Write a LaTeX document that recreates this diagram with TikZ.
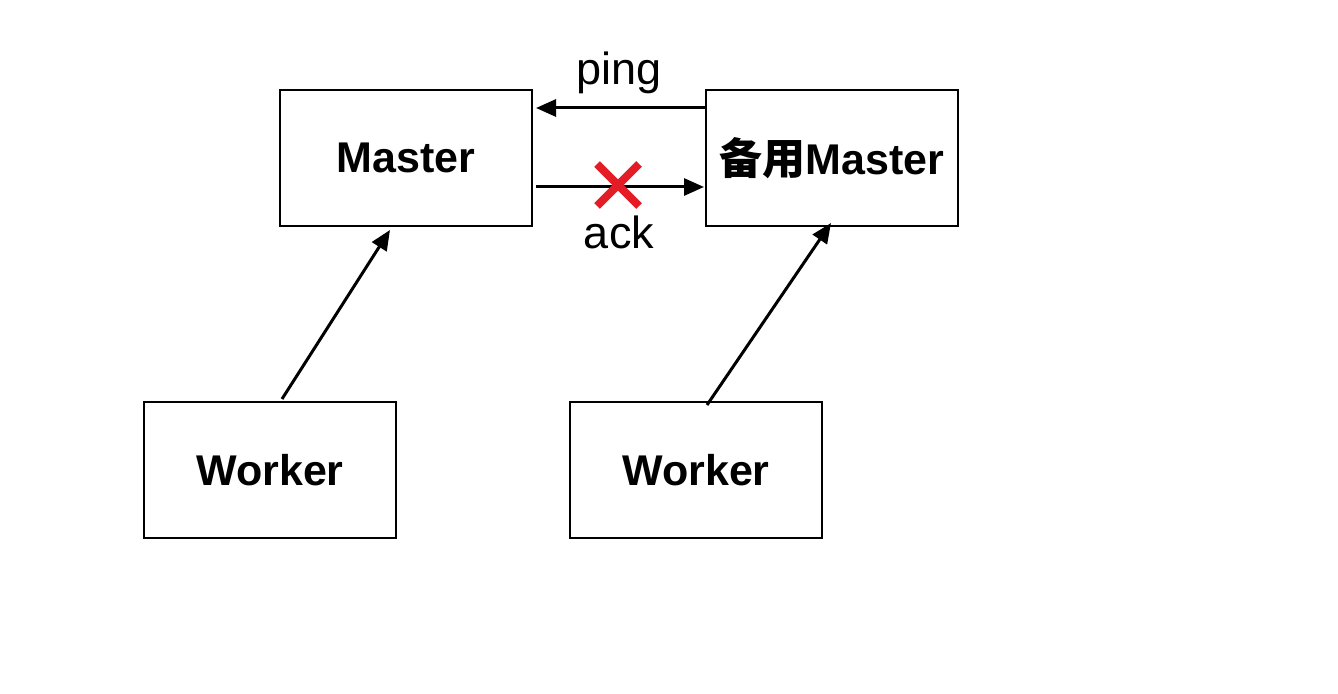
\documentclass[tikz,border=0pt]{standalone}
\usepackage{fontspec}
\setmainfont{Liberation Sans}
\newfontfamily\cjk{Noto Sans CJK SC}
\usetikzlibrary{arrows.meta}
\definecolor{xred}{RGB}{228,28,38}
\tikzset{
  box/.style={draw=black, line width=1pt, minimum width=126pt, minimum height=68pt, inner sep=0pt, font=\fontsize{21.5pt}{24pt}\selectfont\bfseries},
  arr/.style={line width=1.5pt, -{Triangle[length=10pt,width=8.5pt]}},
  lbl/.style={font=\fontsize{22.5pt}{26pt}\selectfont, inner sep=0pt, anchor=base},
  xline/.style={draw=xred, line width=4pt}
}
\begin{document}
\begin{tikzpicture}[x=0.5pt,y=-0.5pt]
\useasboundingbox (0,0) rectangle (1338,694);
\node[box] (master) at (406,158) {Master};
\node[box] (backup) at (832,158) {{\cjk\bfseries 备用}Master};
\node[box] (w1) at (270,470) {Worker};
\node[box] (w2) at (696,470) {Worker};
\draw[arr] ([yshift=25pt]backup.west) -- ([xshift=1.5pt,yshift=25pt]master.east);
\draw[arr] ([xshift=1.5pt,yshift=-14.5pt]master.east) -- ([xshift=-0.5pt,yshift=-14.5pt]backup.west);
\node[lbl] (ping) at (619,85) {ping};
\node[lbl] (ack) at (619,249) {ack};
\coordinate (xm) at (618,185);
\draw[xline] ([xshift=-10.5pt,yshift=10.5pt]xm) -- ([xshift=10.5pt,yshift=-10.5pt]xm);
\draw[xline] ([xshift=-10.5pt,yshift=-10.5pt]xm) -- ([xshift=10.5pt,yshift=10.5pt]xm);
\draw[arr] ([xshift=6pt,yshift=1pt]w1.north) -- ([xshift=-8pt,yshift=-1.5pt]master.south);
\draw[arr] ([xshift=5.5pt,yshift=-2pt]w2.north) -- ([xshift=-0.5pt,yshift=2pt]backup.south);
\end{tikzpicture}
\end{document}
